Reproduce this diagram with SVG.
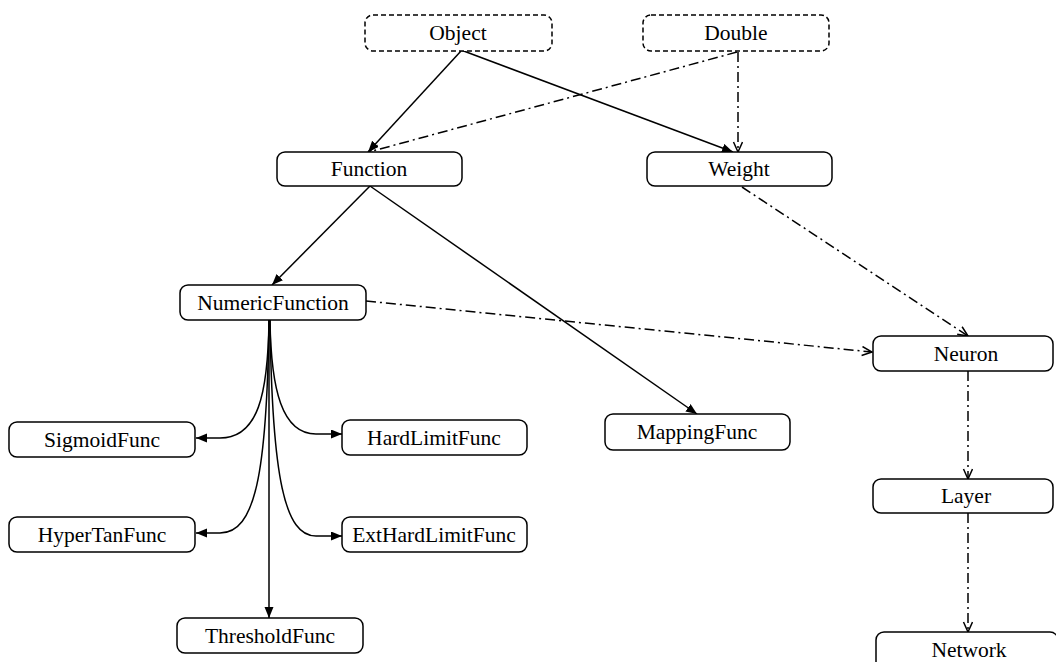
<svg xmlns="http://www.w3.org/2000/svg" width="1056" height="662" viewBox="0 0 1056 662">
<style>
.box{fill:#fff;stroke:#000;stroke-width:1.5}
.dbox{fill:#fff;stroke:#000;stroke-width:1.5;stroke-dasharray:5,3}
.t{font-family:"Liberation Serif","Times New Roman",serif;font-size:21.5px;text-anchor:middle;fill:#000}
.e{fill:none;stroke:#000;stroke-width:1.5}
.s{marker-end:url(#fa)}
.d{stroke-dasharray:10,4,2,4;marker-end:url(#oa)}
</style>
<defs>
<marker id="fa" markerWidth="12" markerHeight="10" refX="11" refY="4.5" orient="auto" markerUnits="userSpaceOnUse"><path d="M0,0 L11,4.5 L0,9 z" fill="#000"/></marker>
<marker id="oa" markerWidth="12" markerHeight="12" refX="11" refY="5" orient="auto" markerUnits="userSpaceOnUse"><path d="M1,0.5 L11,5 L1,9.5" fill="none" stroke="#000" stroke-width="1.5"/></marker>
</defs>
<rect width="1056" height="662" fill="#fff"/>
<g id="connectors">
<path class="e s" d="M461,51 L368,152"/>
<path class="e s" d="M461,50 L733,152"/>
<path class="e d" d="M737,52 L369,152"/>
<path class="e d" d="M738,52 L738,152"/>
<path class="e s" d="M370,186 L272,285"/>
<path class="e s" d="M370,186 L697,414"/>
<path class="e d" d="M742,187 L968,336"/>
<path class="e d" d="M366,301 L872,352"/>
<path class="e d" d="M968,371 L968,479"/>
<path class="e d" d="M968,513 L968,632"/>
<path class="e s" d="M269,320 C268,395 258,438 220,438 L196,438"/>
<path class="e s" d="M269,320 C267,475 255,533 220,533 L196,533"/>
<path class="e s" d="M270,320 C271,390 282,434 316,434 L342,434"/>
<path class="e s" d="M270,320 C272,480 285,536 316,536 L342,536"/>
<path class="e s" d="M269,320 L269,618"/>
</g>
<g id="Object"><rect class="dbox" x="365" y="15" width="187" height="36" rx="8"/><text class="t" x="458" y="40">Object</text></g>
<g id="Double"><rect class="dbox" x="643" y="15" width="186" height="36" rx="8"/><text class="t" x="736" y="40">Double</text></g>
<g id="Function"><rect class="box" x="277" y="152" width="185" height="34" rx="8"/><text class="t" x="369" y="176">Function</text></g>
<g id="Weight"><rect class="box" x="647" y="152" width="185" height="34" rx="8"/><text class="t" x="739" y="176">Weight</text></g>
<g id="NumericFunction"><rect class="box" x="180" y="285" width="186" height="35" rx="8"/><text class="t" x="273" y="310">NumericFunction</text></g>
<g id="Neuron"><rect class="box" x="873" y="336" width="180" height="35" rx="8"/><text class="t" x="966" y="361">Neuron</text></g>
<g id="MappingFunc"><rect class="box" x="605" y="414" width="185" height="36" rx="8"/><text class="t" x="697" y="439">MappingFunc</text></g>
<g id="SigmoidFunc"><rect class="box" x="9" y="422" width="186" height="35" rx="8"/><text class="t" x="102" y="447">SigmoidFunc</text></g>
<g id="HardLimitFunc"><rect class="box" x="342" y="420" width="185" height="35" rx="8"/><text class="t" x="434" y="445">HardLimitFunc</text></g>
<g id="HyperTanFunc"><rect class="box" x="9" y="517" width="186" height="35" rx="8"/><text class="t" x="102" y="542">HyperTanFunc</text></g>
<g id="ExtHardLimitFunc"><rect class="box" x="342" y="517" width="185" height="35" rx="8"/><text class="t" x="434" y="542">ExtHardLimitFunc</text></g>
<g id="Layer"><rect class="box" x="873" y="479" width="180" height="34" rx="8"/><text class="t" x="966" y="503">Layer</text></g>
<g id="ThresholdFunc"><rect class="box" x="177" y="618" width="186" height="35" rx="8"/><text class="t" x="270" y="643">ThresholdFunc</text></g>
<g id="Network"><rect class="box" x="876" y="632" width="182" height="40" rx="8"/><text class="t" x="969" y="657">Network</text></g>
</svg>
